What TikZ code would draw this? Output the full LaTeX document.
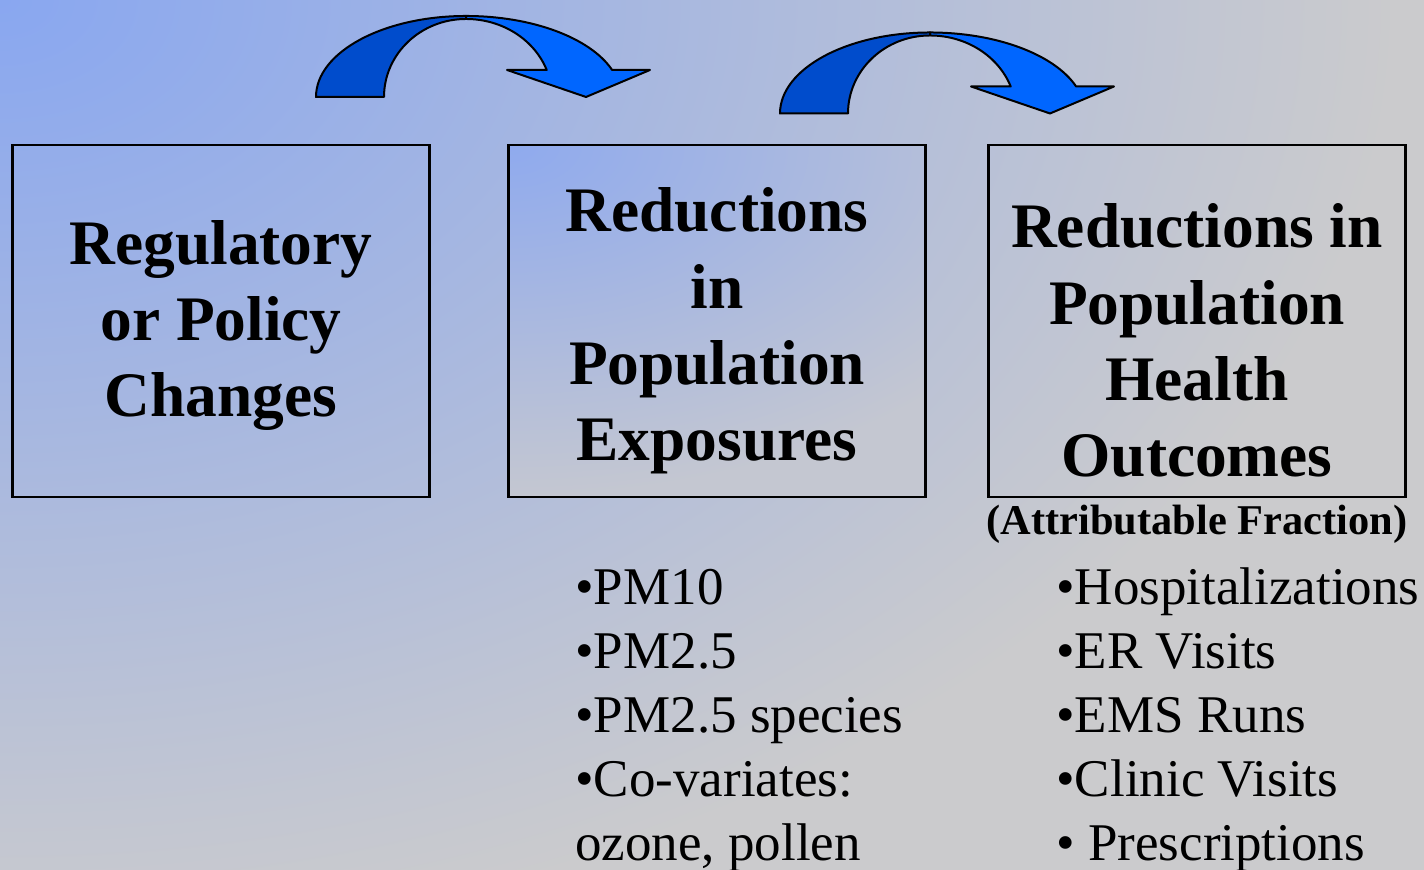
\documentclass[tikz,border=0pt]{standalone}
\usepackage{fontspec}
\setmainfont{Liberation Serif}
\usepackage{xcolor}
\usetikzlibrary{calc}
\definecolor{slideblue}{RGB}{137,167,240}
\definecolor{slidegray}{RGB}{203,203,205}
\definecolor{cornerblue}{RGB}{143,170,238}
\definecolor{cornergray}{RGB}{196,199,209}
\definecolor{arrowdark}{RGB}{0,76,204}
\definecolor{arrowlight}{RGB}{0,102,255}
\tikzset{
  stagebox/.style={draw=black,line width=1.25pt,rectangle,minimum width=208.5pt,minimum height=176pt,inner sep=0pt,outer sep=0pt},
  stagetext/.style={align=center,inner sep=0pt,font=\fontsize{31.7pt}{38.2pt}\selectfont\bfseries},
  listtext/.style={align=left,inner sep=0pt,font=\fontsize{26.5pt}{32pt}\selectfont},
  notetext/.style={inner sep=0pt,font=\fontsize{21.2pt}{25pt}\selectfont\bfseries},
  bandline/.style={draw=black,line width=1pt,line join=round}
}
\newcommand{\bendarrow}[1]{%
\begin{scope}[shift={#1}]
\filldraw[bandline,fill=arrowdark](316,773)arc[start angle=180,end angle=90,x radius=150,y radius=81]--(466,851)arc[start angle=90,end angle=180,x radius=82,y radius=78]--cycle;
\filldraw[bandline,fill=arrowlight](466,854)arc[start angle=90,end angle=19.47,x radius=155,y radius=81]--(650,800)--(586,773)--(507,800)--(546.7,800)arc[start angle=20.25,end angle=90,x radius=86,y radius=78]--cycle;
\end{scope}}
\begin{document}
\begin{tikzpicture}[x=0.5pt,y=0.5pt]
\useasboundingbox (0,0) rectangle (1424,870);
%----------------latar----------
\begin{scope}
\clip (0,0) rectangle (1424,870);
\fill[slidegray] (0,0) rectangle (1424,870);
\shade[inner color=slideblue,outer color=slidegray] (-1400,-80) rectangle (1400,1820);
\end{scope}
%----------------kotak----------
\node[stagebox] (regbox) at (221,549) {};
\node[stagebox] (expobox) at (717,549) {};
\node[stagebox] (healthbox) at (1197,549) {};
\begin{scope}
\clip (expobox.south west) rectangle (expobox.north east);
\shade[inner color=cornerblue,outer color=cornergray] ($(expobox.north west)+(-600,-352)$) rectangle ($(expobox.north west)+(600,352)$);
\end{scope}
\node[stagebox] at (expobox) {};
%----------------teks----------
\node[stagetext,anchor=base] (regtext) at (221,453) {Regulatory\\or Policy\\Changes};
\node[stagetext,anchor=base] (expotext) at (717,409) {Reductions\\in\\Population\\Exposures};
\node[stagetext,anchor=base] (healthtext) at (1197,393) {Reductions in\\Population\\Health\\Outcomes};
\node[notetext,anchor=base] (attrib) at (1197,335) {(Attributable Fraction)};
\node[listtext,anchor=base west] (expolist) at (575,9) {•PM10\\•PM2.5\\•PM2.5 species\\•Co-variates:\\ozone, pollen};
\node[listtext,anchor=base west] (healthlist) at (1056,9) {•Hospitalizations\\•ER Visits\\•EMS Runs\\•Clinic Visits\\• Prescriptions};
%----------------panah----------
\bendarrow{(0,0)}
\bendarrow{(464,-16.5)}
\end{tikzpicture}
\end{document}
